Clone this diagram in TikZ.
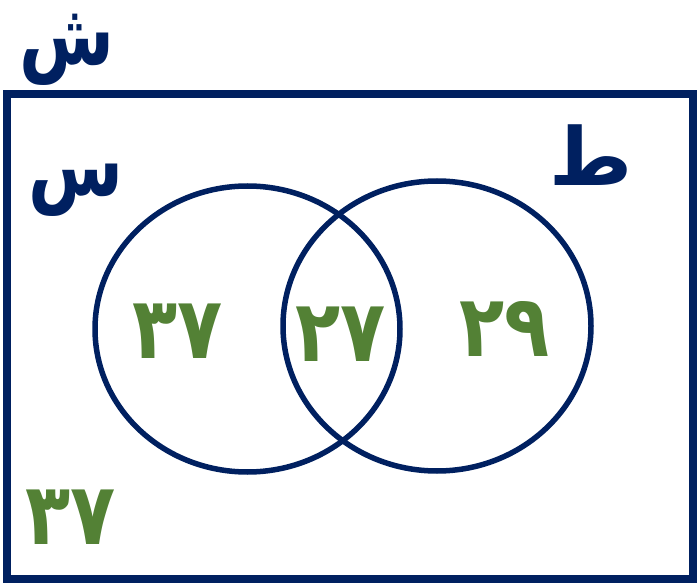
\documentclass[tikz,border=0pt]{standalone}
\usepackage{fontspec}
\TeXXeTstate=1
\newfontfamily\arabicfont[Script=Arabic]{DejaVu Sans}
\newfontfamily\narrowarabic[Script=Arabic, FakeStretch=0.8]{DejaVu Sans}
\newfontfamily\digitfont[Script=Arabic, FakeStretch=0.86]{DejaVu Sans}
\definecolor{setblue}{HTML}{002060}
\definecolor{numgreen}{HTML}{538135}
\tikzset{
  setline/.style={draw=setblue, line width=5.5pt},
  boxline/.style={draw=setblue, line width=7.5pt},
  setname/.style={text=setblue, inner sep=0pt, font=\arabicfont\bfseries\fontsize{80}{80}\selectfont},
  narrowname/.style={text=setblue, inner sep=0pt, font=\narrowarabic\bfseries\fontsize{86}{86}\selectfont},
  count/.style={text=numgreen, inner sep=0pt, font=\digitfont\bfseries\fontsize{86}{86}\selectfont},
}
\begin{document}
\begin{tikzpicture}[x=1pt, y=-1pt]
\useasboundingbox (0,0) rectangle (697,583);
\draw[boxline] (7,94) rectangle (693,579);
\draw[setline] (247.5,329) ellipse [x radius=152.5, y radius=143];
\draw[setline] (437,326) ellipse [x radius=154, y radius=145];
\node[narrowname] (U) at (67,50) {\beginR ش\endR};
\node[narrowname] (S) at (76,190) {\beginR س\endR};
\node[setname] (T) at (591,155) {\beginR ط\endR};
\node[count] (a) at (178,331) {٣٧};
\node[count] (b) at (341,334) {٢٧};
\node[count] (c) at (505,329) {٢٩};
\node[count] (d) at (71,517) {٣٧};
\end{tikzpicture}
\end{document}
